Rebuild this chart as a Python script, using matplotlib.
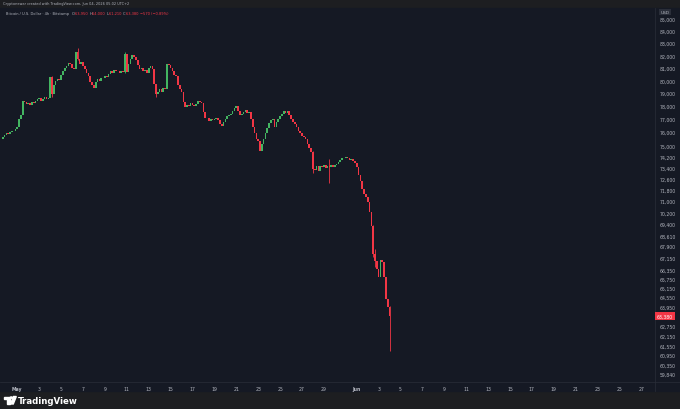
import numpy as np
import matplotlib
matplotlib.use("Agg")
import matplotlib.pyplot as plt
from matplotlib.patches import Rectangle, Polygon, Circle

# 4h BTC/USD closes, first candle Apr 29 16:00
first_open = 75500
closes = [
    75600, 75750, 75900, 75850, 76000, 76100, 76050, 76250, 76400, 77000,
    77300, 78400, 78300, 78150, 78250, 78100, 78300, 78200, 78350, 78500,
    78600, 78400, 78550, 78650, 78500, 78600, 80250, 78900, 79600, 79950,
    80100, 80000, 80400, 80700, 81000, 81100, 81400, 81300, 81000, 80900,
    82300, 81700, 81300, 81500, 81100, 80900, 80600, 80300, 79900, 79600,
    79400, 79900, 80100, 79950, 80200, 80150, 80300, 80250, 80500, 80700,
    80600, 80800, 80700, 80750, 80600, 80700, 80650, 82100, 80660, 81300,
    81700, 82000, 81900, 81600, 81200, 80900, 81000, 80700, 80800, 80600,
    81000, 81100, 80900, 79700, 78900, 79100, 79300, 79100, 79400, 79300,
    81300, 81200, 81000, 80700, 80400, 80300, 79600, 79300, 79100, 78300,
    77900, 78100, 78000, 78200, 78050, 78000, 78150, 78400, 78300, 78200,
    77500, 77050, 77100, 76850, 77000, 76900, 77000, 77100, 76950, 76600,
    76500, 76800, 77000, 77200, 77300, 77400, 77600, 77800, 78000, 77600,
    77300, 77350, 77500, 77700, 77450, 77500, 77000, 76400, 75900, 75500,
    75300, 74600, 75100, 75500, 75900, 76300, 76700, 76900, 77000, 76400,
    76800, 77000, 77200, 77350, 77600, 77450, 77600, 77300, 77000, 76800,
    76600, 76400, 76100, 75900, 75700, 75600, 75500, 75100, 74800, 74500,
    73300, 73200, 73500, 73100, 73500, 73400, 73600, 73350, 73500, 73450,
    73600, 73400, 73550, 73650, 73800, 73950, 74100, 74050, 74150, 74050,
    73950, 74000, 73850, 73700, 73400, 72850, 72430, 71860, 71500, 71290,
    70940, 70240, 69280, 67390, 66920, 66400, 65870, 66990, 66850, 65870,
    64460, 63950, 63380,
]
# visible wicks: candle index -> (high, low)
wicks = {
    27: (80300, 78700),
    41: (82600, 81600),
    67: (82300, 80600),
    84: (79500, 78700),
    170: (74600, 73000),
    179: (74000, 72300),
    203: (69300, 67200),
    204: (67720, 66500),
    212: (64000, 61210),
}

price_ticks = [85000, 84000, 83000, 82000, 81000, 80000, 79000, 78000, 77000,
               76000, 75000, 74200, 73400, 72600, 71800, 71000, 70200, 69400,
               68610, 67900, 67150, 66350, 65750, 65150, 64550, 63950, 62750,
               62150, 61550, 60950, 60350, 59840]
day_ticks = [0, 2, 4, 6, 8, 10, 12, 14, 16, 18, 20, 22, 24, 26, 28,
             31, 33, 35, 37, 39, 41, 43, 45, 47, 49, 51, 53, 55, 57]
day_labels = ["May", "3", "5", "7", "9", "11", "13", "15", "17", "19", "21",
              "23", "25", "27", "29", "Jun", "3", "5", "7", "9", "11", "13",
              "15", "17", "19", "21", "23", "25", "27"]

BG = "#151924"
BAR = "#1d1e21"
UP = "#43b561"
DOWN = "#f23645"
TXT = "#b2b5be"

closes = np.array(closes, dtype=float)
opens = np.concatenate([[first_open], closes[:-1]])
t = -4 / 3 + np.arange(len(closes)) / 6  # days since May 1

W, H = 680, 410
fig = plt.figure(figsize=(6.8, 4.1), dpi=100, facecolor=BAR)

def px(x, y):
    return (x / W, (H - y) / H)

# pane + axis strips background (behind the axes)
fig.patches.append(Rectangle(px(0, 392), 1, (392 - 9) / H,
                             transform=fig.transFigure, color=BG, zorder=-5))

ax = fig.add_axes([0, (H - 383) / H, 655 / W, (383 - 9) / H], zorder=1)
ax.set_facecolor(BG)

colors = np.where(closes >= opens, UP, DOWN)
ax.bar(t, np.abs(closes - opens), bottom=np.minimum(opens, closes),
       width=0.15, color=colors, linewidth=0)
for i, (hi, lo) in wicks.items():
    ax.vlines(t[i], lo, hi, color=colors[i], linewidth=0.6)

ax.set_yscale("log")
ax.set_ylim(59355, 85930)
ax.set_xlim(-1.58, 58.24)
ax.yaxis.set_minor_locator(matplotlib.ticker.NullLocator())
ax.yaxis.set_minor_formatter(matplotlib.ticker.NullFormatter())
ax.set_yticks(price_ticks)
ax.set_yticklabels([f"{p:,}" for p in price_ticks])
ax.yaxis.tick_right()
ax.set_xticks(day_ticks)
ax.set_xticklabels(day_labels)
ax.tick_params(axis="both", length=0, labelsize=3.3, labelcolor=TXT)
ax.tick_params(axis="y", pad=3.5)
ax.tick_params(axis="x", pad=3)
for lbl in ax.get_xticklabels():
    if lbl.get_text() in ("May", "Jun"):
        lbl.set_fontweight("bold")
for s in ax.spines.values():
    s.set_visible(False)

# separators
fig.add_artist(plt.Line2D([655 / W, 655 / W], [(H - 392) / H, (H - 9) / H],
                          color="#2a2e39", linewidth=0.5, zorder=2))
fig.add_artist(plt.Line2D([0, 1], [(H - 383) / H, (H - 383) / H],
                          color="#2a2e39", linewidth=0.5, zorder=2))

# last price label
last = closes[-1]
fig.text(665 / W, (H - 317) / H, f"{int(last):,}", color="white", fontsize=3.3,
         ha="center", va="center", zorder=3,
         bbox=dict(boxstyle="square,pad=0.4", fc=DOWN, ec="none"))
fig.text(665 / W, (H - 13) / H, "USD", color=TXT, fontsize=3.1, ha="center",
         va="center", zorder=3,
         bbox=dict(boxstyle="square,pad=0.3", fc="#2a2e39", ec="none"))

# header
fig.text(3 / W, (H - 4.5) / H,
         "Cryptonewer created with TradingView.com, Jun 04, 2026 05:02 UTC+2",
         color=TXT, fontsize=2.5, va="center")

chg = last - opens[-1]
pieces = [("Bitcoin / U.S. Dollar · 4h · Bitstamp  ", TXT),
          ("O", TXT), (f"{int(opens[-1]):,} ", DOWN),
          ("H", TXT), ("64,000 ", DOWN),
          ("L", TXT), ("61,210 ", DOWN),
          ("C", TXT), (f"{int(last):,} ", DOWN),
          (f"\u2212{abs(int(chg))} (\u2212{abs(chg) / opens[-1] * 100:.2f}%)", DOWN)]
renderer = fig.canvas.get_renderer()
xpos = 6
for s, c in pieces:
    tx = fig.text(xpos / W, (H - 14) / H, s, color=c, fontsize=2.6, va="center",
                  zorder=3)
    xpos += tx.get_window_extent(renderer).width + 0.4

# footer logo
fig.patches.append(Polygon([px(4, 397.5), px(9.5, 397.5), px(9.5, 405),
                            px(7, 405), px(7, 399.5), px(4, 399.5)],
                           closed=True, transform=fig.transFigure, color="white"))
fig.patches.append(Circle(px(11.3, 398.6), 1.1 / W, transform=fig.transFigure,
                          color="white"))
fig.patches.append(Polygon([px(13.5, 397.5), px(16.3, 397.5), px(13.3, 405),
                            px(10.5, 405)],
                           closed=True, transform=fig.transFigure, color="white"))
fig.text(18 / W, (H - 401.3) / H, "TradingView", color="white", fontsize=6.2,
         fontweight="bold", va="center")

fig.savefig("out.png", dpi=100, facecolor=BAR)
